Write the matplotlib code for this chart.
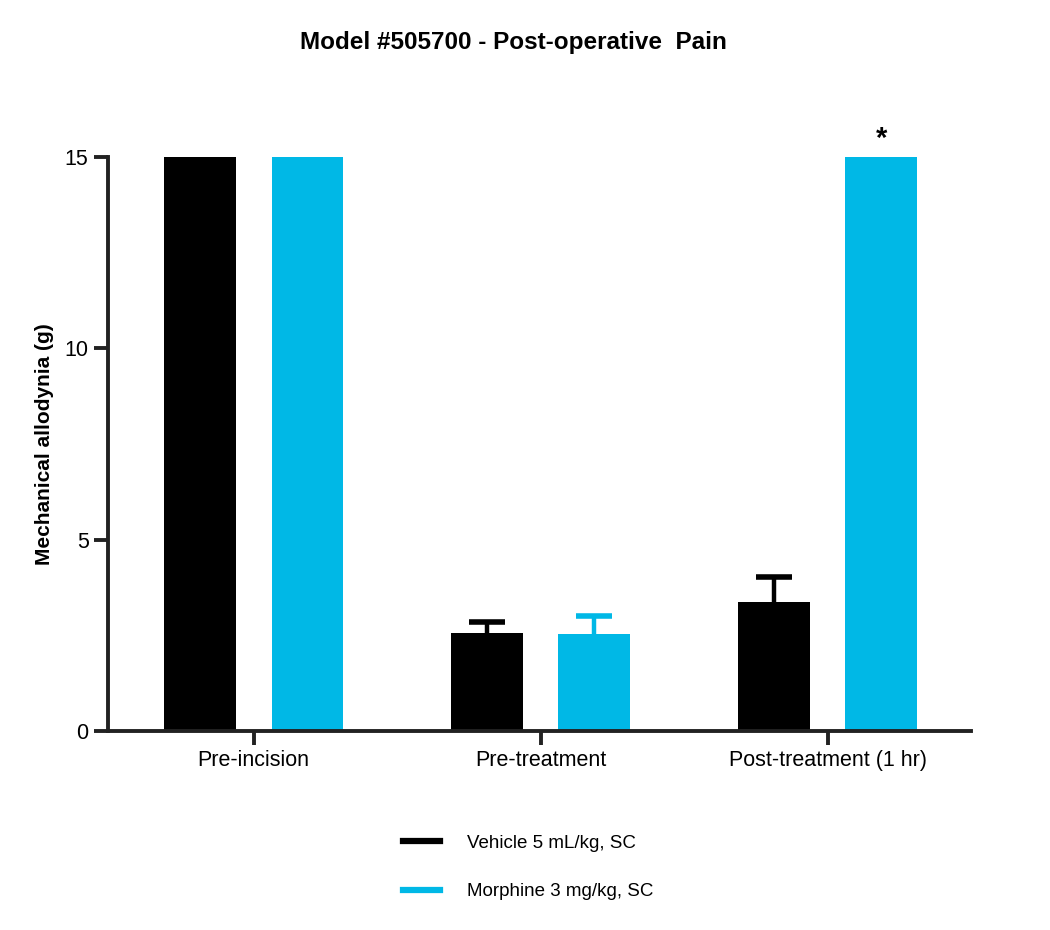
import matplotlib
matplotlib.use("Agg")
import matplotlib.pyplot as plt
from matplotlib.lines import Line2D
import numpy as np

plt.rcParams['font.family'] = ['Liberation Sans', 'DejaVu Sans']

categories = ["Pre-incision", "Pre-treatment", "Post-treatment (1 hr)"]
vehicle_mean = [15.0, 2.57, 3.37]
vehicle_sem = [0.0, 0.28, 0.66]
morphine_mean = [15.0, 2.53, 15.0]
morphine_sem = [0.0, 0.47, 0.0]
series_labels = ["Vehicle 5 mL/kg, SC", "Morphine 3 mg/kg, SC"]
yticks = [0, 5, 10, 15]
title = "Model #505700 - Post-operative  Pain"
ylabel = "Mechanical allodynia (g)"

black = "#000000"
blue = "#00B8E6"

fig = plt.figure(figsize=(10.5, 9.3), dpi=100)
ax = fig.add_axes([108/1050, 1-731/930, (971-108)/1050, (731-157)/930])

x = np.arange(len(categories))
w = 0.25
off = 0.187
capw = 0.125
ax.bar(x - off, vehicle_mean, w, color=black, zorder=2)
ax.bar(x + off, morphine_mean, w, color=blue, zorder=2)

def upper_err(xs, means, sems, color):
    for xi, m, s in zip(xs, means, sems):
        if s > 0:
            ax.vlines(xi, m, m + s, color=color, lw=3.2, zorder=1)
            ax.hlines(m + s, xi - capw / 2, xi + capw / 2, color=color, lw=4, zorder=1)

upper_err(x - off, vehicle_mean, vehicle_sem, black)
upper_err(x + off, morphine_mean, morphine_sem, blue)

ax.text(x[2] + off, 15.1, "*", ha='center', va='bottom', fontsize=21, fontweight='bold')

ax.set_xlim(-0.508, 2.50)
ax.set_ylim(0, 15)
ax.set_xticks(x)
ax.set_xticklabels(categories, fontsize=15.5)
ax.set_yticks(yticks)
ax.set_yticklabels([str(t) for t in yticks], fontsize=15.5)
ax.tick_params(axis='both', width=2.8, length=10, color='#222222', pad=4)
for s in ['top', 'right']:
    ax.spines[s].set_visible(False)
for s in ['left', 'bottom']:
    ax.spines[s].set_linewidth(2.8)
    ax.spines[s].set_color('#222222')

ax.set_ylabel(ylabel, fontsize=15, fontweight='bold', labelpad=7.5)

fig.text(513/1050, 1-43/930, title, ha='center', va='center', fontsize=17.5, fontweight='bold')

handles = [Line2D([0], [0], color=black, lw=4.5), Line2D([0], [0], color=blue, lw=4.5)]
leg = fig.legend(handles, series_labels, loc='upper left', bbox_to_anchor=(386/1050, 1-818/930),
                 frameon=False, fontsize=13.5, handlelength=2.0, handletextpad=1.4,
                 labelspacing=1.65)

fig.savefig("out.png", dpi=100)
